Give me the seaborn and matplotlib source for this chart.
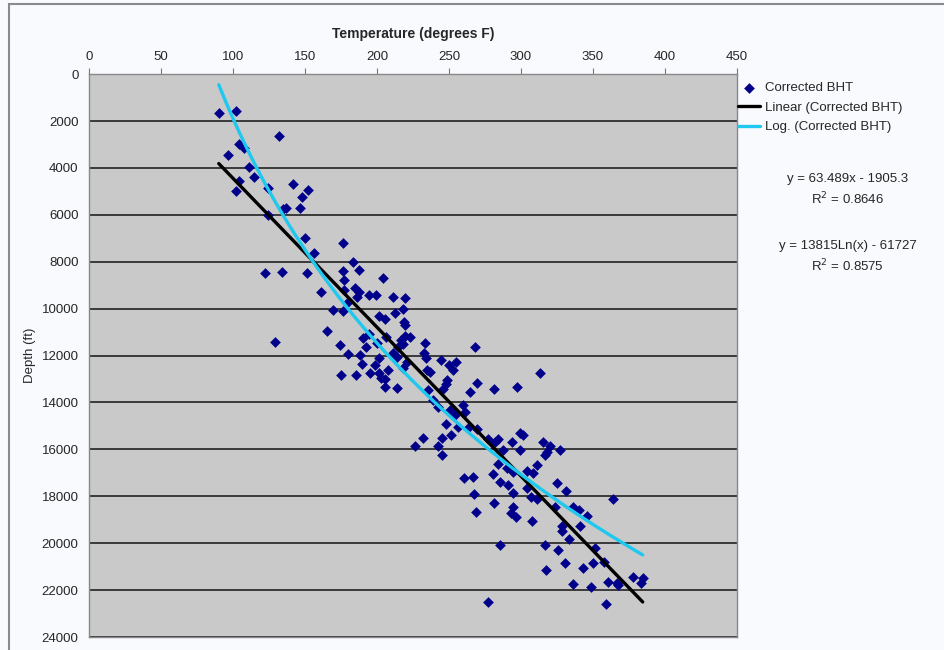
import matplotlib
matplotlib.use("Agg")
import matplotlib.pyplot as plt
import seaborn as sns
import numpy as np
import pandas as pd

# Corrected bottom-hole temperatures (deg F) and depths (ft)
temp_f = [
    90.1, 102.3, 132.1, 104.0, 107.8, 96.2, 111.4, 114.8, 104.3, 102.0, 124.1, 141.4, 151.9, 147.8,
    136.7, 134.5, 146.8, 124.3, 150.2, 156.2, 176.2, 122.5, 133.8, 151.2, 176.2, 183.2, 187.7, 177.2,
    204.2, 161.0, 177.2, 184.9, 187.3, 185.9, 194.7, 199.3, 211.3, 219.2, 179.4, 169.1, 176.6,
    201.5, 205.5, 212.3, 217.7, 218.7, 165.3, 129.0, 174.3, 190.3, 194.4, 200.3, 192.4, 180.1, 188.0,
    206.5, 216.5, 219.7, 211.3, 213.6, 201.5, 189.3, 198.6, 175.0, 185.3, 195.2, 201.2, 202.5, 205.5,
    207.4, 213.6, 205.5, 218.3, 220.6, 214.6, 217.7, 219.5, 222.9, 233.4, 232.6, 233.9, 234.9, 236.9,
    235.6, 239.1, 244.5, 250.1, 255.1, 252.5, 248.3, 247.9, 246.0, 242.2, 250.7, 254.1, 260.0,
    261.2, 264.6, 269.3, 268.3, 247.9, 256.4, 263.4, 251.4, 245.4, 232.1, 226.4, 242.2, 245.4,
    269.2, 277.3, 282.0, 284.3, 293.6, 299.4, 301.7, 287.7, 299.4, 315.1, 320.1, 317.9, 316.7,
    284.3, 290.1, 303.9, 308.6, 310.8, 280.7, 260.4, 266.5, 285.5, 291.2, 294.6, 303.9, 307.0,
    310.8, 324.8, 267.6, 281.2, 268.8, 294.6, 293.1, 296.5, 281.2, 297.0, 327.0, 294.6, 331.3,
    323.7, 336.4, 340.6, 345.6, 341.0, 328.3, 328.3, 333.5, 307.4, 285.5, 316.7, 325.9,
    330.5, 317.4, 351.4, 350.2, 357.7, 343.3, 336.4, 348.7, 360.2, 366.5, 367.5, 377.5,
    383.1, 384.5, 277.3, 359.0, 364.2, 313.2,
]
depth_ft = [
    1660, 1590, 2630, 3000, 3140, 3450, 3950, 4380, 4570, 4990, 4850, 4700, 4960, 5250,
    5730, 5770, 5730, 6010, 7000, 7640, 7200, 8500, 8430, 8500, 8400, 8010, 8350, 8780,
    8700, 9280, 9210, 9140, 9290, 9490, 9430, 9430, 9520, 9540, 9750, 10060, 10120,
    10320, 10430, 10180, 10020, 10560, 10940, 11410, 11550, 11240, 11070, 11480, 11650,
    11940, 11990, 11230, 11340, 11170, 11880, 12050, 12120, 12360, 12400, 12840, 12820,
    12760, 12730, 12970, 13000, 12620, 13400, 13360, 12550, 12260, 11620, 11510, 10700,
    11200, 11450, 11910, 12120, 12620, 12690, 13470, 13900, 12190, 12400, 12290, 12620,
    13040, 13230, 13440, 14210, 14320, 14540, 14110, 14400, 13540, 13190, 11650, 14930,
    15030, 15100, 15390, 15500, 15530, 15860, 15860, 16240, 15150, 15570, 15670, 15570,
    15670, 15290, 15390, 16030, 16030, 15670, 15860, 16100, 16240, 16630, 16810, 16920,
    17000, 16670, 17060, 17230, 17190, 17380, 17520, 17850, 17660, 18020, 18130, 17450,
    17920, 18280, 18660, 18450, 18730, 18870, 13430, 13330, 16030, 16950, 17760, 18470,
    18470, 18590, 18840, 19270, 19270, 19470, 19820, 19040, 20080, 20080, 20290, 20860,
    21140, 20220, 20830, 20790, 21070, 21750, 21880, 21640, 21710, 21800, 21430, 21710,
    21500, 22500, 22590, 18120, 12750,
]

# Excel trendline coefficients shown on the chart
lin_slope, lin_icpt, lin_r2 = 63.489, -1905.3, 0.8646
log_coef, log_icpt, log_r2 = 13815, -61727, 0.8575
trend_t = np.linspace(min(temp_f), max(temp_f), 200)

pts = pd.DataFrame({"Temperature": temp_f, "Depth": depth_ft})
trend = pd.DataFrame({
    "Temperature": trend_t,
    "Linear": lin_slope * trend_t + lin_icpt,
    "Log": log_coef * np.log(trend_t) + log_icpt,
})

sns.set_style("white")
plt.rcParams["font.family"] = ["Liberation Sans", "DejaVu Sans"]

fig = plt.figure(figsize=(9.45, 6.5), dpi=100, facecolor="#f9fafd")
ax = fig.add_axes([0.0942, 0.02, 0.6857, 0.866])
ax.set_facecolor("#c9c9c9")

sns.scatterplot(data=pts, x="Temperature", y="Depth", marker="D", s=30,
                color="#00008b", edgecolor="#00008b", linewidth=0,
                label="Corrected BHT", ax=ax, zorder=3)
sns.lineplot(data=trend, x="Temperature", y="Linear", color="black", lw=2.4,
             label="Linear (Corrected BHT)", ax=ax, zorder=4)
sns.lineplot(data=trend, x="Temperature", y="Log", color="#1ec8ee", lw=2.4,
             label="Log. (Corrected BHT)", ax=ax, zorder=5)

ax.set_xlim(0, 450)
ax.set_ylim(24000, 0)
ax.set_xticks(np.arange(0, 451, 50))
ax.set_yticks(np.arange(0, 24001, 2000))
ax.xaxis.tick_top()
ax.xaxis.set_label_position("top")
ax.set_xlabel("Temperature (degrees F)", fontsize=10, fontweight="bold", labelpad=9)
ax.set_ylabel("Depth (ft)", fontsize=9.5, labelpad=4)
ax.tick_params(axis="both", labelsize=9.5, length=4, color="#777777", direction="out")
ax.tick_params(axis="x", pad=4)
ax.grid(axis="y", color="#222222", lw=1.2)
ax.grid(axis="x", visible=False)
for sp in ax.spines.values():
    sp.set_color("#888888")
    sp.set_linewidth(1)

leg = ax.legend(loc="upper left", bbox_to_anchor=(0.99, 1.0), frameon=False,
                fontsize=9.5, handlelength=1.6, borderaxespad=0.2,
                labelspacing=0.55, handletextpad=0.4)

fig.text(0.897, 0.720, f"y = {lin_slope}x - {abs(lin_icpt)}", ha="center", fontsize=9.5)
fig.text(0.897, 0.686, f"R$^2$ = {lin_r2}", ha="center", fontsize=9.5)
fig.text(0.897, 0.617, f"y = {log_coef}Ln(x) - {abs(log_icpt)}", ha="center", fontsize=9.5)
fig.text(0.897, 0.583, f"R$^2$ = {log_r2}", ha="center", fontsize=9.5)

# Outer chart-area border
fig.patches.append(plt.Rectangle((0.009, -0.01), 1.0, 1.004, transform=fig.transFigure,
                                 fill=False, edgecolor="#8a8a8a", lw=1.5))

fig.savefig("out.png", dpi=100, facecolor=fig.get_facecolor())
